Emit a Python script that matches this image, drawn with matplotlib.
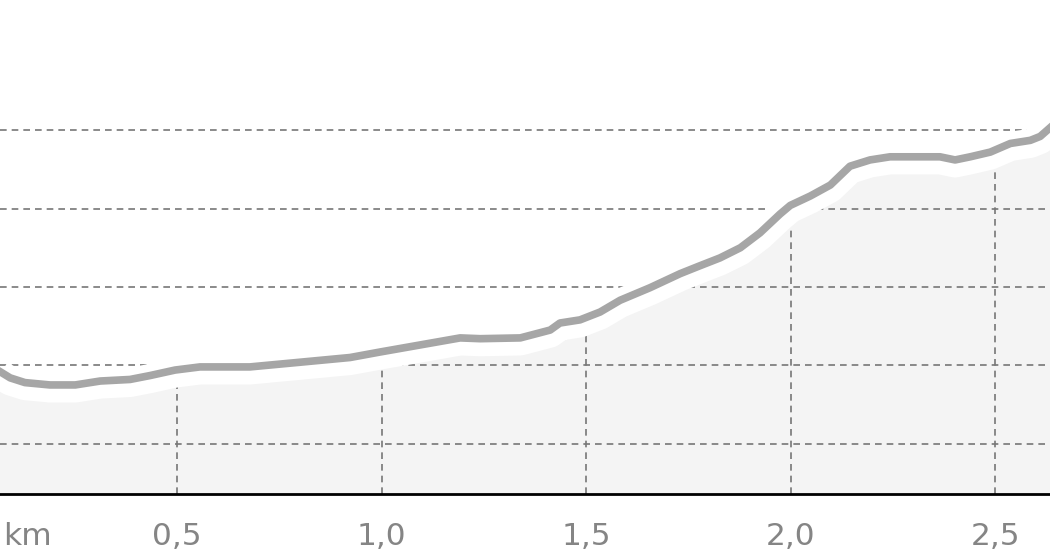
import matplotlib
matplotlib.use("Agg")
import matplotlib.pyplot as plt
import matplotlib.transforms as mtransforms
import numpy as np

# elevation profile (distance in km, elevation in m)
dist_km = [0.067, 0.092, 0.128, 0.189, 0.251, 0.312, 0.385, 0.434, 0.495, 0.556,
           0.678, 0.801, 0.923, 0.996, 1.094, 1.192, 1.241, 1.339, 1.412, 1.436,
           1.485, 1.534, 1.583, 1.656, 1.730, 1.778, 1.827, 1.877, 1.925, 1.974,
           1.999, 2.048, 2.097, 2.145, 2.194, 2.243, 2.365, 2.402, 2.439, 2.488,
           2.537, 2.586, 2.610, 2.634]
elev_m = [1449.2, 1448.4, 1447.8, 1447.5, 1447.5, 1448.0, 1448.2, 1448.7, 1449.4, 1449.8,
          1449.8, 1450.4, 1451.0, 1451.7, 1452.6, 1453.5, 1453.4, 1453.5, 1454.5, 1455.4,
          1455.8, 1456.8, 1458.3, 1459.9, 1461.7, 1462.7, 1463.7, 1465.0, 1466.9, 1469.3,
          1470.4, 1471.6, 1473.0, 1475.4, 1476.2, 1476.6, 1476.6, 1476.2, 1476.6, 1477.2,
          1478.3, 1478.7, 1479.2, 1480.3]

x_ticks = [0.5, 1.0, 1.5, 2.0, 2.5]
x_tick_labels = ["0,5", "1,0", "1,5", "2,0", "2,5"]
y_grid = [1440, 1450, 1460, 1470, 1480]

fig = plt.figure(figsize=(10.5, 5.6), dpi=100)
ax = fig.add_axes([0, 0.118, 1, 0.882])

ymin, ymax = 1433.6, 1496.6
ax.set_xlim(0.067, 2.634)
ax.set_ylim(ymin, ymax)

# filled area under profile
ax.fill_between(dist_km, ymin, elev_m, color="#f4f4f4", zorder=1)

# dashed grid
grid_style = dict(color="#777777", lw=1.2, linestyle=(0, (4, 3)), zorder=2)
for g in y_grid:
    ax.axhline(g, **grid_style)
for t in x_ticks:
    ax.vlines(t, ymin, np.interp(t, dist_km, elev_m), **grid_style)

# white halo, slightly shifted down, then the profile line
shift = mtransforms.offset_copy(ax.transData, fig=fig, x=0, y=-3, units="dots")
ax.plot(dist_km, elev_m, color="white", lw=21, solid_capstyle="butt",
        transform=shift, zorder=3)
ax.plot(dist_km, elev_m, color="#a6a6a6", lw=5.5, solid_joinstyle="round", zorder=4)

for side in ["top", "left", "right"]:
    ax.spines[side].set_visible(False)
ax.spines["bottom"].set_color("black")
ax.spines["bottom"].set_linewidth(2)
ax.spines["bottom"].set_zorder(5)

ax.set_yticks([])
ax.set_xticks(x_ticks)
ax.set_xticklabels(x_tick_labels)
ax.tick_params(axis="x", length=0, pad=20.5, labelsize=22.5, labelcolor="#858585")

fig.text(0.003, 0.0268, "km", fontsize=22.5, color="#858585", ha="left", va="baseline")

fig.savefig("out.png", dpi=100)
